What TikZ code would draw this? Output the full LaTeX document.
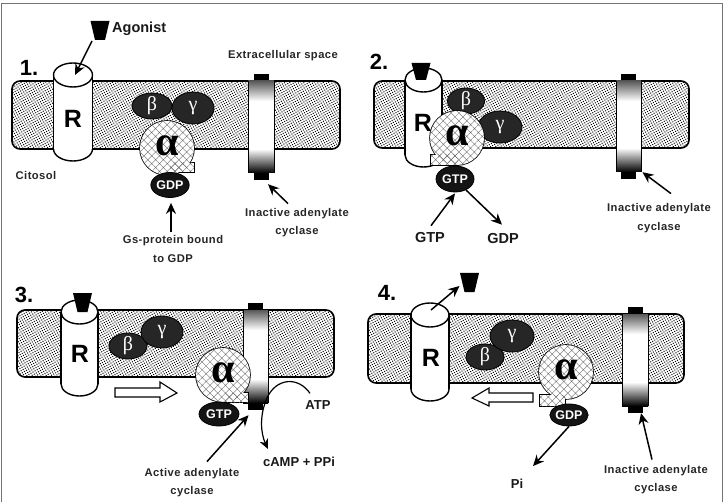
\documentclass[tikz,border=0pt]{standalone}
\usepackage{fontspec}
\setmainfont{Liberation Sans}
\newfontfamily\lblfont[LetterSpace=4]{Liberation Sans}
\newfontfamily\greekfont{Liberation Serif}
\usetikzlibrary{shapes.geometric,arrows.meta,patterns.meta,calc}
\tikzset{
  membr/.style={draw=black,line width=1.6pt,rounded corners=8pt,fill=white},
  membrdots/.style={rounded corners=8pt,pattern={Dots[radius=0.72pt,distance=2.4pt,angle=30]},pattern color=black},
  subunit/.style={ellipse,inner sep=0pt,fill=black!85,draw=black,line width=.8pt,text=white,font=\greekfont\fontsize{20}{20}\selectfont},
  nucleo/.style={ellipse,inner sep=0pt,fill=black!92,draw=black,line width=.8pt,text=white,font=\bfseries\fontsize{12.5}{12.5}\selectfont},
  arr/.style={-{Stealth[length=11pt,width=10pt]},line width=1.5pt,black},
  lbl/.style={font=\lblfont\bfseries\fontsize{11.2}{11.2}\selectfont,text=black!85,inner sep=1pt},
  biglbl/.style={font=\bfseries\fontsize{14.5}{14.5}\selectfont,text=black!90,inner sep=1pt},
  midlbl/.style={font=\bfseries\fontsize{13}{13}\selectfont,text=black!90,inner sep=1pt},
  stepnum/.style={font=\bfseries\fontsize{22}{22}\selectfont,inner sep=0pt},
  receptorletter/.style={font=\bfseries\fontsize{25}{25}\selectfont,inner sep=0pt},
  openarr/.style={draw=black,line width=1.1pt,fill=white,line join=miter},
}
% membrane slab: x1 y1 x2 y2
\newcommand\membraneslab[4]{
  \draw[membr] (#1,#2) rectangle (#3,#4);
  \fill[membrdots] (#1,#2) rectangle (#3,#4);
}
% adenylate cyclase: name, x1, x2, y1, y2
\newcommand\cyclasebar[5]{
  \node[fill=black,inner sep=0pt,minimum width=15pt,minimum height=22pt] (#1t) at ({(#2+#3)/2},{#4+4}) {};
  \node[fill=black,inner sep=0pt,minimum width=15pt,minimum height=22pt] (#1b) at ({(#2+#3)/2},{#5-4}) {};
  \fill[white] (#2,#4) rectangle (#3,#5);
  \shade[top color=black!65,bottom color=white] (#2,#4) rectangle (#3,{#4+20});
  \shade[top color=white,bottom color=black] (#2,{#5-24}) rectangle (#3,#5);
  \draw[line width=1pt] (#2,#4) -- (#2,#5) (#3,#4) -- (#3,#5);
}
% receptor cylinder: centre x, radius x, top-ellipse y, radius y, lowest y
\newcommand\receptorbody[5]{
  \draw[line width=1.4pt,fill=white] (#1,{#5-#4}) ellipse[x radius=#2,y radius=#4];
  \fill[white] ({#1-#2},#3) rectangle ({#1+#2},{#5-#4});
  \draw[line width=1.4pt] ({#1-#2},#3) -- ({#1-#2},{#5-#4}) ({#1+#2},#3) -- ({#1+#2},{#5-#4});
  \draw[line width=1.4pt,fill=white] (#1,#3) ellipse[x radius=#2,y radius=#4];
}
% agonist wedge: name, centre x, top y, bottom y
\newcommand\agonistmark[4]{
  \fill ({#2-9.5},#3) -- ({#2+9.5},#3) -- ({#2+5},#4) -- ({#2-5},#4) -- cycle;
  \coordinate (#1) at (#2,#4);
}
% alpha subunit with its foot: centre x, y, foot x1, y1, x2, y2
\newcommand\alphasub[6]{
  \draw[line width=1.6pt] (#1,#2) circle[radius=27];
  \draw[line width=1.6pt] (#3,#4) rectangle (#5,#6);
  \fill[white] (#1,#2) circle[radius=27];
  \fill[white] (#3,#4) rectangle (#5,#6);
  \fill[pattern={Hatch[angle=45,distance=5.5pt,line width=.35pt]},pattern color=black!60] (#1,#2) circle[radius=27];
  \fill[pattern={Hatch[angle=45,distance=5.5pt,line width=.35pt]},pattern color=black!60] (#3,#4) rectangle (#5,#6);
  \node[inner sep=0pt,font=\greekfont\bfseries\fontsize{42}{42}\selectfont] at (#1,{#2-2}) {α};
}
\begin{document}
\begin{tikzpicture}[x=1pt,y=-1pt]
\useasboundingbox (0,0) rectangle (727,502);
\fill[white] (0,0) rectangle (727,502);
% outer frame, open at the bottom
\draw[black!55,line width=1pt] (1,502) -- (1,4) -- (722,4) -- (722,502);

% ---- step 1 ----
\node[stepnum] (n1) at (29,68) {1.};
\membraneslab{12}{81}{340}{149}
\cyclasebar{c1}{248}{274}{81}{173}
\receptorbody{73}{19.5}{75}{12}{161}
\node[receptorletter] (r1) at (73,119) {R};
\node[subunit,minimum width=40pt,minimum height=24pt] (be1) at (152,106) {β};
\node[subunit,minimum width=42pt,minimum height=32pt] (ga1) at (193,108) {γ};
\alphasub{167}{148}{170}{163}{194}{172}
\node[nucleo,minimum width=38pt,minimum height=25pt] (gd1) at (170,185) {GDP};
\agonistmark{ag1}{100}{21}{40}
\node[biglbl,anchor=west] (agl) at (111,29) {Agonist};
\coordinate (rt1) at (75,75);
\draw[arr] (ag1) ++(-8,1) -- (rt1);
\node[lbl] (ex1) at (283,56) {Extracellular space};
\node[lbl] (ci1) at (36,175) {Citosol};
\node[lbl] (in1) at (297,214) {Inactive adenylate};
\node[lbl] (in1b) at (297,232) {cyclase};
\node[lbl] (gs1) at (173,241) {Gs-protein bound};
\node[lbl] (gs1b) at (173,259) {to GDP};
\draw[arr] ([xshift=-2pt,yshift=3pt]gs1.north) -- ([xshift=1pt,yshift=-5pt]gd1.south);
\draw[arr] ([xshift=-9pt,yshift=4pt]in1.north) -- ([xshift=7pt,yshift=-4pt]c1b.south);

% ---- step 2 ----
\node[stepnum] (n2) at (379,62) {2.};
\membraneslab{374}{81}{689}{148}
\cyclasebar{c2}{616}{641}{81}{172}
\receptorbody{423.5}{18.5}{80}{12}{167}
\node[receptorletter] (r2) at (423,123) {R};
\agonistmark{ag2}{421}{63}{80}
\node[subunit,minimum width=37pt,minimum height=26pt] (be2) at (466,101) {β};
\node[subunit,minimum width=44pt,minimum height=32pt] (ga2) at (500,127) {γ};
\alphasub{457}{138}{431}{155}{458}{165}
\node[nucleo,minimum width=38pt,minimum height=26pt] (gt2) at (455,179) {GTP};
\node[biglbl] (gtl2) at (430,238) {GTP};
\node[biglbl] (gdl2) at (503,239) {GDP};
\draw[arr] ([xshift=1pt,yshift=6pt]gtl2.north) -- ([yshift=-1pt]gt2.south);
\draw[arr] (gt2.-45) -- ([xshift=-1pt,yshift=8pt]gdl2.north);
\node[lbl] (in2) at (659,209) {Inactive adenylate};
\node[lbl] (in2b) at (659,228) {cyclase};
\draw[arr] ([xshift=12pt,yshift=9pt]in2.north) -- ([xshift=14pt,yshift=7pt]c2b.south);

% ---- step 3 ----
\node[stepnum] (n3) at (24,295) {3.};
\membraneslab{17}{310}{334}{377}
\cyclasebar{c3}{243}{268}{310}{403}
\receptorbody{79.5}{18.5}{312}{12}{396}
\node[receptorletter] (r3) at (80,354) {R};
\agonistmark{ag3}{82.5}{293}{312}
\node[subunit,minimum width=38pt,minimum height=26pt] (be3) at (128,346) {β};
\node[subunit,minimum width=42pt,minimum height=32pt] (ga3) at (162,332) {γ};
\alphasub{223}{375}{225}{393}{248}{402}
\node[nucleo,minimum width=40pt,minimum height=24pt] (gt3) at (219,414) {GTP};
\draw[openarr] (115,388) -- (160,388) -- (160,382) -- (177,393) -- (160,402) -- (160,397) -- (115,397) -- cycle;
\node[lbl] (ac3) at (192,474) {Active adenylate};
\node[lbl] (ac3b) at (192,492) {cyclase};
\node[midlbl] (atp) at (318,405) {ATP};
\node[midlbl] (camp) at (299,462) {cAMP + PPi};
\draw[arr] ([xshift=15pt,yshift=6pt]ac3.north) -- ([xshift=-7pt,yshift=-5pt]c3b.south);
\draw[-{Stealth[length=10pt,width=9pt]},line width=1.2pt] ([xshift=-8pt,yshift=6pt]atp.north)
  .. controls (298,376) and (276,378) .. (267,398)
  .. controls (259,416) and (261,434) .. ([xshift=-31pt,yshift=7pt]camp.north);

% ---- step 4 ----
\node[stepnum] (n4) at (387,293) {4.};
\membraneslab{368}{314}{684}{383}
\cyclasebar{c4}{622}{648}{314}{406}
\receptorbody{430}{19}{315}{12}{401}
\node[receptorletter] (r4) at (431,358) {R};
\agonistmark{ag4}{469.5}{273}{292}
\coordinate (rt4) at (431,310);
\draw[arr] (rt4) -- ([xshift=-10pt,yshift=6pt]ag4);
\node[subunit,minimum width=38pt,minimum height=26pt] (be4) at (485,357) {β};
\node[subunit,minimum width=44pt,minimum height=32pt] (ga4) at (512,336) {γ};
\alphasub{566}{372}{540}{395}{565}{406}
\node[nucleo,minimum width=38pt,minimum height=22pt] (gd4) at (569,415) {GDP};
\draw[openarr] (533,393) -- (489,393) -- (489,388) -- (472,398) -- (489,406) -- (489,402) -- (533,402) -- cycle;
\node[midlbl] (pi4) at (517,484) {Pi};
\draw[arr] (gd4.south) -- ([xshift=16pt,yshift=12pt]pi4.north);
\node[lbl] (in4) at (656,471) {Inactive adenylate};
\node[lbl] (in4b) at (656,489) {cyclase};
\draw[arr] ([xshift=-4pt,yshift=5pt]in4.north) -- ([xshift=6pt]c4b.south);
\end{tikzpicture}
\end{document}
